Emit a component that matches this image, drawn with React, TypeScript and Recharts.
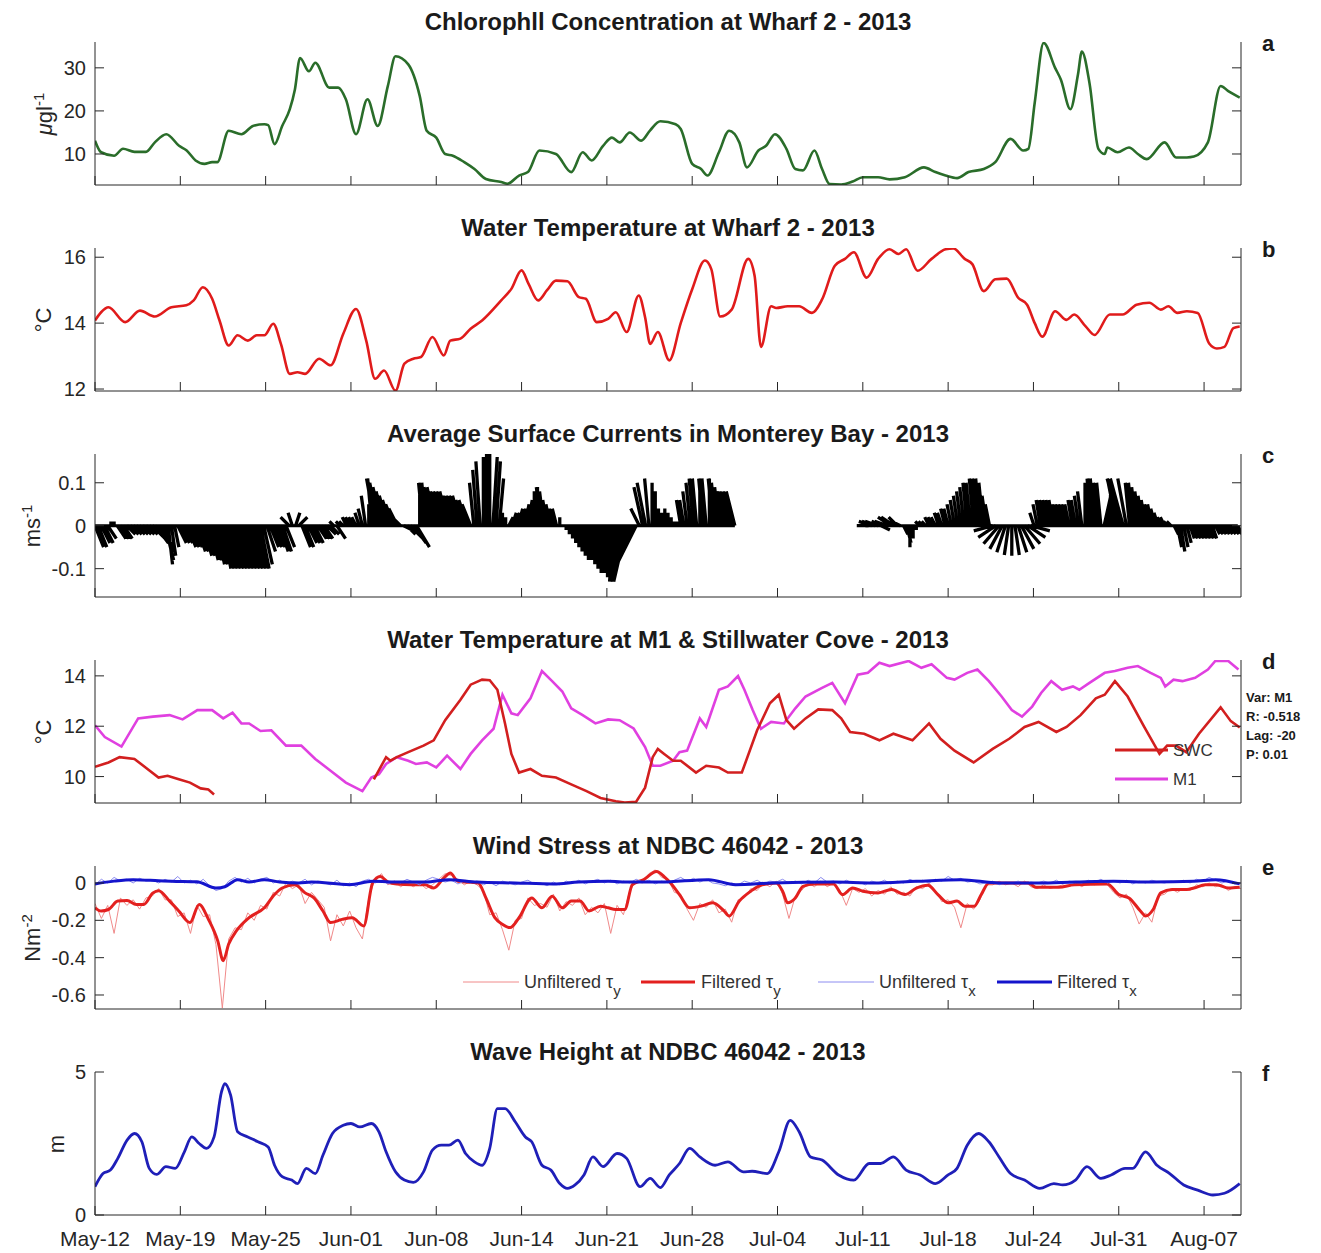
import React from "react";
import { ComposedChart, Line, XAxis, YAxis } from "recharts";

// time axis: days since 12 May 2013
const dayTicks = [0, 6.7, 13.4, 20.1, 26.8, 33.5, 40.2, 46.9, 53.6, 60.3, 67, 73.7, 80.4, 87.1];
const dayLabels = ["May-12", "May-19", "May-25", "Jun-01", "Jun-08", "Jun-14", "Jun-21", "Jun-28", "Jul-04", "Jul-11", "Jul-18", "Jul-24", "Jul-31", "Aug-07"];

// chlorophyll at Wharf 2, ug/l  [day, value]
const chlorophyll: [number, number][] = [
  [0, 13.1], [0.48, 10.4], [1.5, 9.6], [2.2, 11.2], [3.1, 10.5], [4.0, 10.5], [4.7, 12.7], [5.6, 14.6],
  [6.6, 11.9], [7.2, 10.8], [7.9, 8.5], [8.6, 7.7], [9.2, 8.1], [9.6, 8.1], [10.5, 15.4], [11.5, 14.6],
  [12.4, 16.5], [13.3, 16.9], [13.6, 16.7], [14.1, 12.3], [14.7, 16.5], [15.3, 20.4], [15.7, 25], [16.1, 32.3],
  [16.8, 29.2], [17.3, 31.2], [18.4, 25.4], [19.1, 25.4], [19.7, 22.7], [20.5, 14.6], [21.4, 22.7], [22.2, 16.5],
  [23.0, 25.8], [23.6, 32.7], [24.6, 30.8], [25.5, 23.5], [26.05, 15.4], [26.8, 13.8], [27.5, 10.0], [28.1, 9.6],
  [29.0, 8.1], [29.8, 6.5], [30.7, 4.2], [31.9, 3.5], [32.4, 3.1], [33.3, 5.0], [34.0, 5.8], [34.9, 10.8],
  [36.2, 10], [37.4, 5.8], [38.3, 10.4], [39.0, 8.5], [39.9, 11.9], [40.6, 13.8], [41.2, 12.7], [42.0, 15],
  [42.9, 13.1], [43.6, 15.5], [44.4, 17.6], [45.6, 16.9], [46.0, 15.8], [46.9, 7.7], [47.6, 6.5], [48.1, 5.0],
  [49.0, 10.4], [49.8, 15.4], [50.6, 12.7], [51.2, 6.9], [52.1, 10.8], [52.7, 11.9], [53.4, 14.6], [54.3, 11.2],
  [55.0, 6.5], [55.6, 6.2], [56.5, 10.8], [57.1, 6.5], [57.7, 3.0], [58.6, 2.9], [59.5, 3.6], [60.3, 4.6],
  [61.5, 4.6], [62.4, 4.1], [63.6, 4.6], [65.1, 6.9], [66.0, 5.8], [66.8, 5.0], [67.7, 4.4], [68.6, 5.8],
  [69.8, 6.5], [70.7, 8.1], [71.9, 13.5], [72.9, 10.8], [73.3, 11.2], [73.8, 21.9], [74.5, 35.8], [75.4, 30],
  [75.85, 27.3], [76.6, 20.4], [77.2, 28.5], [77.5, 33.8], [78.1, 26.5], [78.8, 11.2], [79.3, 10], [79.5, 11.5],
  [80.3, 10.4], [81.2, 11.5], [81.9, 10], [82.6, 8.8], [84.0, 12.7], [84.9, 9.2], [85.75, 9.2], [86.3, 9.4],
  [87.4, 12.7], [88.4, 25.8], [89.0, 24.6], [89.9, 23.1],
];

// water temperature at Wharf 2, degC
const wharfTemp: [number, number][] = [
  [0, 14.08], [0.48, 14.33], [1.06, 14.48], [2.37, 14.03], [3.53, 14.38], [4.7, 14.2], [6.0, 14.48], [7.17, 14.54],
  [7.75, 14.69], [8.47, 15.09], [9.2, 14.74], [9.78, 14.08], [10.5, 13.32], [11.2, 13.63], [12.0, 13.47], [12.7, 13.63],
  [13.3, 13.63], [14.0, 13.98], [14.6, 13.37], [15.3, 12.46], [15.9, 12.51], [16.5, 12.46], [17.6, 12.92], [18.5, 12.72],
  [19.5, 13.68], [20.5, 14.43], [21.3, 13.47], [22.0, 12.31], [22.7, 12.56], [23.6, 11.95], [24.3, 12.77], [25.0, 12.92],
  [25.6, 12.97], [26.5, 13.58], [27.4, 13.02], [27.9, 13.47], [28.7, 13.53], [29.5, 13.83], [30.4, 14.08], [31.9, 14.69],
  [32.7, 15.04], [33.5, 15.6], [34.05, 15.19], [34.8, 14.69], [35.5, 15.0], [36.2, 15.29], [37.1, 15.27], [38.0, 14.79],
  [38.55, 14.74], [39.4, 14.03], [40.3, 14.13], [40.9, 14.33], [41.75, 13.73], [42.7, 14.84], [43.2, 14.18], [43.6, 13.37],
  [44.2, 13.73], [45.1, 12.87], [46.0, 14.0], [46.9, 15.03], [47.9, 15.9], [48.4, 15.64], [49.1, 14.2], [50.0, 14.41],
  [51.3, 15.95], [51.8, 15.44], [52.3, 13.28], [53.1, 14.51], [53.5, 14.46], [54.4, 14.51], [55.3, 14.51], [56.3, 14.31],
  [57.1, 14.72], [58.1, 15.74], [58.9, 15.95], [59.6, 16.15], [60.6, 15.38], [61.5, 15.95], [62.4, 16.24], [63.1, 16.1],
  [63.7, 16.24], [64.6, 15.59], [65.7, 15.95], [66.8, 16.24], [67.4, 16.27], [68.3, 15.95], [68.9, 15.79], [69.8, 14.97],
  [70.7, 15.33], [71.6, 15.35], [72.5, 14.77], [73.2, 14.56], [73.8, 14.0], [74.4, 13.59], [75.4, 14.36], [76.3, 14.1],
  [76.9, 14.26], [77.8, 13.9], [78.5, 13.64], [79.7, 14.26], [80.7, 14.26], [81.8, 14.56], [82.8, 14.62], [83.7, 14.41],
  [84.3, 14.51], [85.0, 14.31], [85.75, 14.36], [86.6, 14.31], [87.5, 13.38], [88.1, 13.23], [88.7, 13.28], [89.4, 13.85],
  [89.9, 13.9],
];

// Stillwater Cove temperature, degC (logger gap mid-May to early June)
const swcTemp: [number, number | null][] = [
  [0, 10.39], [1.06, 10.56], [1.93, 10.77], [3.1, 10.7], [3.97, 10.36], [4.99, 9.96], [5.7, 10.03], [6.58, 9.89],
  [7.46, 9.76], [8.3, 9.53], [8.9, 9.49], [9.35, 9.29], [15, null],
  [21.9, 9.89], [22.86, 10.77], [23.2, 10.63], [23.7, 10.77], [24.6, 10.97], [25.8, 11.23], [26.6, 11.44], [27.5, 12.24],
  [28.7, 13.05], [29.5, 13.65], [30.4, 13.85], [31.0, 13.83], [31.6, 13.45], [32.2, 12.11], [32.7, 10.9], [33.3, 10.16],
  [34.2, 10.3], [35.1, 10.03], [36.2, 9.96], [37.4, 9.69], [38.6, 9.42], [39.7, 9.15], [40.9, 9.02], [41.6, 8.97],
  [42.5, 9.0], [43.2, 9.56], [43.8, 10.77], [44.2, 11.1], [44.7, 10.9], [45.4, 10.63], [46.0, 10.63], [47.2, 10.16],
  [48.0, 10.43], [49.0, 10.36], [49.7, 10.16], [50.8, 10.16], [52.0, 11.84], [53.0, 12.91], [53.7, 13.25], [54.3, 12.24],
  [54.9, 11.9], [55.8, 12.31], [56.8, 12.67], [57.9, 12.64], [58.6, 12.31], [59.3, 11.77], [60.4, 11.7], [61.6, 11.44],
  [62.7, 11.7], [64.2, 11.44], [65.5, 12.11], [66.4, 11.5], [67.5, 11.03], [69.0, 10.56], [70.5, 11.1], [71.8, 11.5],
  [73.0, 11.97], [74.1, 12.17], [75.5, 11.77], [76.3, 11.97], [77.4, 12.44], [78.6, 13.11], [79.3, 13.25], [80.1, 13.79],
  [81.1, 13.18], [82.4, 11.97], [83.6, 10.9], [84.2, 11.23], [84.9, 11.23], [85.7, 10.97], [86.7, 11.7], [88.4, 12.75],
  [89.2, 12.2], [89.9, 11.95],
];

// M1 mooring temperature, degC
const m1Temp: [number, number][] = [
  [0, 12.04], [0.77, 11.57], [2.08, 11.19], [3.39, 12.31], [4.55, 12.38], [5.86, 12.44], [6.88, 12.27], [8.04, 12.64],
  [9.2, 12.64], [10.07, 12.31], [10.8, 12.54], [11.5, 12.11], [12.1, 12.11], [13.0, 11.81], [13.85, 11.84], [15.0, 11.23],
  [16.2, 11.23], [17.3, 10.7], [18.5, 10.23], [19.7, 9.76], [21.0, 9.42], [21.7, 9.96], [22.3, 10.09], [22.86, 10.5],
  [23.7, 10.77], [24.6, 10.63], [25.2, 10.5], [26.06, 10.56], [26.8, 10.36], [27.65, 10.83], [28.7, 10.3], [29.5, 10.9],
  [30.4, 11.44], [31.3, 11.9], [32.0, 13.25], [32.7, 12.51], [33.2, 12.44], [34.2, 13.11], [35.1, 14.19], [35.9, 13.79],
  [36.7, 13.38], [37.4, 12.71], [38.3, 12.44], [39.3, 12.11], [40.3, 12.27], [41.2, 12.24], [42.3, 11.91], [43.2, 11.17],
  [43.8, 10.43], [44.4, 10.43], [45.4, 10.63], [45.9, 10.97], [46.5, 11.03], [47.5, 12.31], [48.0, 11.97], [49.0, 13.45],
  [49.7, 13.58], [50.5, 13.99], [51.0, 13.45], [51.65, 12.64], [52.3, 11.9], [53.1, 12.17], [54.1, 12.11], [55.0, 12.71],
  [55.8, 13.18], [57.1, 13.52], [57.9, 13.72], [58.9, 12.91], [59.9, 14.05], [60.7, 14.12], [61.6, 14.52], [62.4, 14.39],
  [63.9, 14.59], [64.9, 14.32], [65.7, 14.46], [66.9, 13.92], [67.5, 13.85], [68.5, 14.12], [69.3, 14.25], [70.2, 13.79],
  [71.2, 13.18], [72.0, 12.64], [72.8, 12.38], [73.6, 12.78], [74.3, 13.32], [75.1, 13.79], [75.95, 13.45], [76.8, 13.58],
  [77.3, 13.45], [78.1, 13.72], [79.3, 14.12], [80.1, 14.19], [81.1, 14.32], [81.9, 14.39], [82.9, 14.12], [83.7, 13.92],
  [84.05, 13.58], [84.7, 13.85], [85.4, 13.79], [86.4, 13.92], [87.4, 14.25], [88.0, 14.6], [89.0, 14.59], [89.8, 14.25],
];

// significant wave height at NDBC 46042, m
const waveHeight: [number, number][] = [
  [0, 0.99], [0.63, 1.45], [1.21, 1.57], [1.79, 1.98], [2.52, 2.62], [3.1, 2.85], [3.68, 2.56], [4.26, 1.63],
  [4.84, 1.42], [5.57, 1.69], [6.3, 1.63], [7.02, 2.21], [7.6, 2.73], [8.18, 2.5], [8.76, 2.33], [9.35, 2.73],
  [9.93, 4.3], [10.2, 4.59], [10.65, 4.19], [11.2, 2.91], [12.0, 2.73], [12.8, 2.56], [13.6, 2.38], [14.1, 1.74],
  [14.7, 1.34], [15.45, 1.22], [15.9, 1.1], [16.6, 1.63], [17.3, 1.45], [17.9, 2.09], [18.65, 2.85], [19.5, 3.14],
  [20.1, 3.2], [20.8, 3.08], [21.7, 3.2], [22.3, 2.91], [22.86, 2.21], [23.6, 1.51], [24.3, 1.22], [25.0, 1.14],
  [25.8, 1.51], [26.5, 2.27], [27.2, 2.44], [27.8, 2.44], [28.5, 2.62], [29.1, 2.15], [29.8, 1.86], [30.4, 1.74],
  [31.0, 2.33], [31.6, 3.72], [32.2, 3.72], [33.0, 3.26], [33.8, 2.73], [34.3, 2.56], [35.1, 1.74], [35.8, 1.57],
  [36.5, 1.1], [37.1, 0.93], [37.7, 1.05], [38.4, 1.4], [39.1, 2.03], [39.9, 1.69], [41.0, 2.15], [41.75, 1.98],
  [42.8, 0.99], [43.6, 1.28], [44.4, 0.96], [45.1, 1.4], [45.9, 1.8], [46.7, 2.33], [47.5, 2.03], [48.7, 1.74],
  [49.7, 1.86], [50.9, 1.51], [51.6, 1.53], [52.8, 1.45], [53.7, 2.21], [54.6, 3.31], [55.3, 2.91], [56.2, 2.03],
  [57.1, 1.92], [58.4, 1.4], [59.6, 1.22], [60.8, 1.8], [61.7, 1.8], [62.7, 2.03], [63.7, 1.57], [64.8, 1.4],
  [66.0, 1.1], [67.0, 1.4], [67.7, 1.63], [68.5, 2.44], [69.4, 2.85], [70.2, 2.56], [71.0, 2.03], [71.9, 1.45],
  [73.0, 1.22], [74.2, 0.93], [75.3, 1.1], [76.0, 1.05], [77.0, 1.22], [77.9, 1.69], [79.0, 1.28], [79.8, 1.4],
  [80.9, 1.63], [81.5, 1.63], [82.5, 2.21], [83.4, 1.74], [84.4, 1.45], [85.5, 1.05], [86.6, 0.87], [87.8, 0.7],
  [88.7, 0.76], [89.9, 1.1],
];

// low-passed wind stress, N/m2
const tauYFiltered: [number, number][] = [
  [0, -0.133], [0.48, -0.15], [1.06, -0.142], [1.79, -0.097], [2.52, -0.094], [3.24, -0.115], [3.82, -0.115], [4.55, -0.053],
  [4.99, -0.041], [5.86, -0.097], [6.58, -0.15], [7.46, -0.212], [8.18, -0.115], [8.91, -0.195], [9.64, -0.31], [10.07, -0.416],
  [10.5, -0.327], [11.1, -0.257], [12.1, -0.186], [13.3, -0.133], [14.1, -0.062], [14.7, -0.027], [15.7, -0.009], [16.5, -0.053],
  [17.2, -0.08], [17.9, -0.15], [18.5, -0.212], [19.4, -0.195], [20.2, -0.186], [21.1, -0.23], [21.8, 0], [22.4, 0.035],
  [23.0, 0.005], [23.7, -0.005], [24.9, -0.009], [25.9, -0.009], [26.6, -0.027], [27.4, 0.027], [27.9, 0.053], [28.5, 0.009],
  [30.1, 0], [30.7, -0.08], [31.4, -0.186], [32.0, -0.221], [32.6, -0.239], [33.3, -0.186], [34.3, -0.08], [35.1, -0.133],
  [35.9, -0.071], [36.7, -0.133], [37.4, -0.097], [38.1, -0.097], [38.8, -0.15], [39.7, -0.124], [40.3, -0.133], [40.9, -0.142],
  [41.6, -0.142], [42.2, -0.009], [43.1, 0.018], [44.1, 0.062], [44.8, 0.027], [45.2, 0], [45.9, -0.062], [46.7, -0.133],
  [47.6, -0.124], [48.5, -0.106], [49.4, -0.15], [49.8, -0.177], [50.6, -0.097], [51.5, -0.044], [52.4, -0.009], [53.5, 0],
  [54.0, -0.044], [54.4, -0.106], [55.0, -0.08], [55.6, -0.018], [56.5, -0.005], [58.0, -0.005], [58.7, -0.062], [59.5, -0.027],
  [60.3, -0.044], [61.5, -0.053], [62.55, -0.035], [63.6, -0.062], [64.5, -0.027], [65.4, -0.012], [66.2, -0.062], [67.0, -0.106],
  [67.7, -0.097], [68.3, -0.124], [69.05, -0.124], [69.6, -0.062], [70.2, 0], [73.3, 0], [73.9, -0.023], [75.7, -0.023],
  [76.9, -0.009], [79.5, -0.005], [80.4, -0.062], [81.2, -0.08], [82.1, -0.15], [82.5, -0.177], [83.1, -0.142], [83.7, -0.053],
  [84.6, -0.035], [85.75, -0.035], [86.3, -0.027], [87.2, -0.009], [88.1, -0.009], [89.0, -0.027], [89.9, -0.023],
];

const tauXFiltered: [number, number][] = [
  [0, -0.005], [1.5, 0.01], [3, 0.018], [5, 0.012], [6, 0.009], [8, 0.006], [9.5, -0.027], [10.2, -0.02],
  [11.2, 0.018], [12.1, 0.005], [13.3, 0.018], [14.5, 0.005], [16, 0.0], [17, 0.005], [20, -0.009], [21.8, 0.009],
  [24, 0.005], [26, 0.005], [27.8, 0.018], [30, 0.005], [33, 0], [36, -0.005], [38, 0.005], [40.3, 0.009],
  [42, 0.005], [44.4, 0.005], [48.2, 0.018], [50.3, -0.009], [53.2, 0], [58, 0.005], [61.1, 0], [64.5, 0.009],
  [68, 0.018], [71, 0], [74, 0], [77, 0.005], [80, 0.009], [83, 0.005], [86.3, 0.009], [88, 0.018], [89.9, -0.005],
];

// unfiltered wind stress, every 12 h from day 0
const tauYRaw = [
  -0.11, -0.19, -0.12, -0.27, -0.08, -0.12, -0.09, -0.14, -0.08, -0.07,
  -0.03, -0.09, -0.09, -0.18, -0.16, -0.27, -0.12, -0.18, -0.17, -0.33,
  -0.67, -0.3, -0.24, -0.25, -0.16, -0.2, -0.12, -0.14, -0.05, -0.07,
  0.0, -0.03, -0.01, -0.11, -0.05, -0.09, -0.13, -0.31, -0.17, -0.23,
  -0.15, -0.24, -0.3, -0.08, 0.02, 0.05, -0.01, 0.01, -0.02, 0.0,
  -0.02, 0.0, -0.03, -0.01, 0.02, 0.05, 0.04, 0.02, -0.01, 0.01,
  -0.01, -0.04, -0.17, -0.16, -0.25, -0.36, -0.2, -0.19, -0.08, -0.12,
  -0.11, -0.13, -0.06, -0.15, -0.1, -0.12, -0.08, -0.17, -0.13, -0.16,
  -0.11, -0.27, -0.12, -0.17, -0.04, 0.01, 0.0, 0.05, 0.07, 0.03,
  0.02, -0.05, -0.06, -0.14, -0.2, -0.11, -0.13, -0.09, -0.16, -0.14,
  -0.21, -0.09, -0.08, -0.03, -0.04, 0.0, -0.02, 0.01, -0.06, -0.19,
  -0.07, -0.04, 0.0, -0.02, 0.01, -0.02, 0.0, -0.04, -0.12, -0.03,
  -0.05, -0.03, -0.07, -0.04, -0.06, -0.02, -0.06, -0.05, -0.07, -0.02,
  -0.03, 0.0, -0.04, -0.1, -0.09, -0.13, -0.24, -0.11, -0.14, -0.09,
  -0.01, -0.01, 0.01, -0.01, 0.0, -0.02, 0.01, -0.02, -0.03, -0.01,
  -0.03, -0.02, -0.01, -0.02, 0.0, -0.02, 0.0, -0.01, 0.01, -0.01,
  -0.05, -0.08, -0.06, -0.13, -0.22, -0.16, -0.21, -0.07, -0.06, -0.03,
  -0.05, -0.03, -0.04, -0.01, -0.02, 0.0, -0.02, -0.01, -0.04, -0.02,
  -0.03,
];

const tauXRaw = [
  -0.01, 0.02, 0.0, 0.03, 0.01, 0.02, 0.0, 0.025, 0.01, 0.015,
  0.0, 0.02, 0.005, 0.035, 0.0, 0.015, -0.005, 0.02, -0.015, -0.04,
  -0.03, 0.01, 0.03, 0.005, 0.025, 0.0, 0.02, 0.03, 0.0, 0.015,
  -0.005, 0.01, 0.0, 0.02, -0.01, 0.01, 0.0, -0.01, 0.015, -0.015,
  0.0, -0.02, 0.01, 0.02, 0.0, 0.015, -0.005, 0.01, 0.0, 0.02,
  0.005, -0.01, 0.015, 0.03, 0.02, 0.005, 0.015, -0.005, 0.01, 0.0,
  0.01, -0.01, 0.005, -0.015, 0.01, 0.0, -0.01, 0.005, 0.015, -0.005,
  0.0, -0.015, 0.005, -0.01, 0.01, 0.0, 0.015, -0.005, 0.01, 0.02,
  0.0, 0.015, -0.005, 0.01, 0.0, 0.02, 0.005, 0.015, -0.005, 0.01,
  0.0, 0.015, 0.03, 0.01, 0.025, 0.005, 0.02, 0.0, -0.005, -0.015,
  0.0, -0.01, 0.01, 0.0, 0.015, -0.005, 0.01, 0.005, 0.02, 0.0,
  0.01, -0.005, 0.015, 0.0, 0.03, 0.005, 0.01, -0.005, 0.015, 0.0,
  0.005, -0.01, 0.01, 0.0, 0.015, -0.005, 0.01, 0.0, 0.02, 0.005,
  0.015, 0.0, 0.02, 0.01, 0.035, 0.015, 0.025, 0.005, 0.01, -0.005,
  0.0, 0.01, -0.01, 0.005, 0.0, 0.01, -0.005, 0.005, 0.0, 0.01,
  0.0, 0.015, -0.005, 0.01, 0.005, 0.0, 0.015, 0.005, 0.02, 0.0,
  0.01, 0.0, 0.015, -0.005, 0.01, 0.0, 0.015, 0.005, 0.0, 0.01,
  0.005, 0.015, 0.0, 0.02, 0.01, 0.03, 0.015, 0.0, 0.01, -0.005,
  0.0,
];

// bay-averaged surface current, cm/s, every 6 h from day 0 (five days per row)
const currentU = [
  2, 2, 2, 2, 2, 0, 0, 2, 2, 2, 2, 2, 2, 2, 2, 2, 2, 2, 3, 3,
  3, 3, 2, 1, 1, 1, 2, 2, 2, 2, 2, 2, 2, 2, 2, 2, 2, 2, 2, 2,
  2, 2, 2, 2, 2, 2, 2, 2, 2, 2, 2, 2, 2, 2, 2, 2, 2, 2, 2, 2,
  2, -2, -1, 1, 2, 2, 2, 2, 2, 2, 2, 2, 2, 2, 2, -1, 2, -1, -1, -1,
  -1, -1, -1, -1, -1, -1, 0, -1, -2, -2, -2, -2, -2, -2, -2, -2, -2, 2, 2, 3,
  3, 3, 0, -1, -1, -2, -2, -2, -2, -2, -2, -2, -2, -2, -2, -2, -2, -2, -2, -1,
  -1, -1, 0, 0, 0, 1, 1, 1, 0, 0, 1, 1, 1, 1, 1, 1, 1, 1, 0, 0,
  -1, -1, -1, -1, -1, -1, 0, 0, 0, 0, 0, 0, 0, 0, 0, 0, 0, 0, 0, 0,
  0, 0, 0, -1, -1, -2, -3, -3, -4, -5, -5, -2, -2, -2, -1, 0, 0, 0, 0, 0,
  0, 0, 0, 0, -1, -1, -1, -1, -1, -1, 0, -1, -1, 0, -1, -1, -1, -1, -2, -2,
  -2, -2, null, null, null, null, null, null, null, null, null, null, null, null, null, null, null, null, null, null,
  null, null, null, null, null, null, null, null, null, null, null, null, null, null, null, null, null, null, null, null,
  null, null, -2, -2, -3, -3, -3, 2, -3, -3, -3, -3, -2, -2, 1, 1, 0, 0, 0, -1,
  -1, -1, -1, -1, -1, -1, -1, -1, -1, -1, -1, -1, -1, -1, -1, -1, -1, -1, -1, -1,
  -1, -1, -4.4, -4.1, -3.6, -2.9, -2, -1, 0, 1, 2, 2.9, 3.6, 4.1, 4.4, -1, -1, -1, -1, -1,
  -1, -1, -1, -1, -1, -1, -1, -1, -1, -1, -1, 0, 0, -1, -1, -1, -1, 2, 1, 0,
  -1, -2, -3, -3, -2, -1, -1, -1, -1, -1, -1, -1, -1, -1, -1, -1, -1, -1, -1, 1,
  1, 1, 1, 1, 1, 1, 1, 1, 1, 1, 1, 1, 1, 1, 1, 1, 1, 1, 1, 1,
];

const currentV = [
  -5, -5, -4, -4, -3, 1, 1, -3, -3, -3, -2, -2, -2, -2, -2, -2, -2, -2, -3, -4,
  -5, -6, -8, -9, -7, -5, -4, -4, -4, -5, -5, -5, -6, -6, -7, -7, -8, -8, -9, -9,
  -10, -10, -10, -10, -10, -10, -10, -10, -10, -10, -10, -10, -10, -9, -6, -5, -5, -5, -6, -6,
  -5, 2, 3, 3, 2, -5, -5, -4, -4, -4, -3, -3, -3, -2, -2, 1, -3, 1, 1, 2,
  2, 2, 2, 3, 4, 7, 5, 11, 11, 10, 9, 8, 7, 6, 5, 4, 2, -1, -2, -3,
  -4, -5, 10, 10, 10, 9, 9, 9, 8, 8, 8, 8, 7, 7, 7, 7, 6, 6, 5, 10,
  13, 15, 16, 17, 17, 16, 15, 11, 3, 2, 2, 3, 3, 4, 4, 5, 6, 7, 8, 9,
  9, 8, 6, 5, 4, 4, 2, 0, -1, -2, -3, -4, -5, -6, -7, -8, -8, -9, -10, -11,
  -11, -12, -13, -13, -13, -13, -13, -13, -12, -12, -10, 4, 9, 10, 11, 10, 8, 4, 3, 4,
  3, 2, 1, 1, 6, 6, 8, 10, 11, 11, 11, 11, 11, 11, 11, 10, 9, 8, 8, 8,
  8, 8, null, null, null, null, null, null, null, null, null, null, null, null, null, null, null, null, null, null,
  null, null, null, null, null, null, null, null, null, null, null, null, null, null, null, null, null, null, null, null,
  null, null, 0, 0, 1, 1, 1, -1, 1, 1, 2, 2, 2, 1, -2, -4, -5, -3, -1, 1,
  1, 1, 2, 2, 2, 3, 3, 4, 4, 5, 6, 7, 8, 9, 10, 10, 11, 11, 11, 10,
  7, 5, -1.2, -2.7, -4.2, -5.4, -6.2, -6.8, -7, -6.8, -6.2, -5.4, -4.2, -2.7, -1.2, 3, 5, 6, 6, 6,
  6, 6, 5, 5, 5, 5, 5, 6, 6, 7, 8, 10, 11, 11, 11, 10, 10, 9, 9, 9,
  10, 10, 11, 11, 11, 10, 10, 9, 8, 7, 6, 5, 5, 4, 3, 2, 2, 1, 1, -2,
  -5, -6, -5, -4, -3, -3, -3, -3, -3, -3, -3, -3, -2, -2, -2, -2, -2, -2, -2, -2,
];

const FONT = '"Liberation Sans", Arial, Helvetica, sans-serif';
const INK = "#262626";
const TICK = 9;
const PLOT_H = 143;
const LEFT_W = 95;
const RIGHT_W = 80;
const TOP_PAD = 10;
const BOTTOM_H = 40;
// horizontal length of a 1 cm/s stick, in days, so sticks keep their true angle
const STICK_DAYS_PER_CMS = 0.338;

const toPoints = (rows: [number, number | null][]) => rows.map(([x, y]) => ({ x, y }));
const halfDaily = (vals: number[]) => vals.map((y, i) => ({ x: i * 0.5, y }));

const stickPoints: { x: number; y: number | null }[] = [];
currentV.forEach((v, i) => {
  const u = currentU[i];
  if (v === null || u === null) return;
  const day = i * 0.25;
  stickPoints.push({ x: day, y: 0 }, { x: day + u * STICK_DAYS_PER_CMS, y: v / 100 }, { x: day, y: null });
});
const stickBase = currentV.map((v, i) => ({ x: i * 0.25, y: v === null ? null : 0 }));

function BottomTick(props: any) {
  const { x, y, payload, showDates } = props;
  const idx = dayTicks.indexOf(payload.value);
  return (
    <g>
      <line x1={x} y1={y} x2={x} y2={y - TICK} stroke={INK} />
      {showDates && (
        <text x={x} y={y + 31} textAnchor="middle" fontSize={21} fontFamily={FONT} fill={INK}>
          {dayLabels[idx]}
        </text>
      )}
    </g>
  );
}

function TopTick(props: any) {
  const { x, y } = props;
  return <line x1={x} y1={y} x2={x} y2={y + TICK} stroke={INK} />;
}

function LeftTick(props: any) {
  const { x, y, payload } = props;
  return (
    <g>
      <line x1={x} y1={y} x2={x + TICK} y2={y} stroke={INK} />
      <text x={x - 9} y={y} dy="0.35em" textAnchor="end" fontSize={20} fontFamily={FONT} fill={INK}>
        {String(payload.value)}
      </text>
    </g>
  );
}

function RightTick(props: any) {
  const { x, y } = props;
  return <line x1={x} y1={y} x2={x - TICK} y2={y} stroke={INK} />;
}

type PanelProps = {
  top: number;
  title: string;
  letter: string;
  yLabel: React.ReactNode;
  yLabelX: number;
  domain: [number, number];
  ticks: number[];
  showDates?: boolean;
  children: React.ReactNode;
};

function Panel({ top, title, letter, yLabel, yLabelX, domain, ticks, showDates, children }: PanelProps) {
  return (
    <>
      <div
        style={{
          position: "absolute",
          left: LEFT_W,
          width: 1146,
          top: top - 34,
          textAlign: "center",
          fontFamily: FONT,
          fontWeight: "bold",
          fontSize: 24,
          lineHeight: "28px",
          color: "#1a1a1a",
        }}
      >
        {title}
      </div>
      <div
        style={{
          position: "absolute",
          left: 1262,
          top: top - 11,
          fontFamily: FONT,
          fontWeight: "bold",
          fontSize: 22,
          lineHeight: "26px",
          color: "#1a1a1a",
        }}
      >
        {letter}
      </div>
      <div
        style={{
          position: "absolute",
          left: yLabelX,
          top: top + PLOT_H / 2,
          transform: "translate(-50%, -50%) rotate(-90deg)",
          whiteSpace: "nowrap",
          fontFamily: FONT,
          fontSize: 22,
          color: INK,
        }}
      >
        {yLabel}
      </div>
      <div style={{ position: "absolute", left: 0, top: top - TOP_PAD }}>
        <ComposedChart
          width={1321}
          height={TOP_PAD + PLOT_H + BOTTOM_H}
          margin={{ top: TOP_PAD, right: 0, bottom: 0, left: 0 }}
        >
          <XAxis
            type="number"
            dataKey="x"
            domain={[0, 90]}
            ticks={dayTicks}
            interval={0}
            allowDataOverflow
            height={BOTTOM_H}
            tickSize={0}
            tickMargin={0}
            stroke={INK}
            tick={(p: any) => <BottomTick {...p} showDates={showDates} />}
          />
          <XAxis
            xAxisId="top"
            orientation="top"
            type="number"
            dataKey="x"
            domain={[0, 90]}
            ticks={dayTicks}
            interval={0}
            allowDataOverflow
            height={0}
            tickSize={0}
            tickMargin={0}
            stroke={INK}
            tick={(p: any) => <TopTick {...p} />}
          />
          <YAxis
            type="number"
            domain={domain}
            ticks={ticks}
            interval={0}
            allowDataOverflow
            width={LEFT_W}
            tickSize={0}
            tickMargin={0}
            stroke={INK}
            tick={(p: any) => <LeftTick {...p} />}
          />
          <YAxis
            yAxisId="right"
            orientation="right"
            type="number"
            domain={domain}
            ticks={ticks}
            interval={0}
            allowDataOverflow
            width={RIGHT_W}
            tickSize={0}
            tickMargin={0}
            stroke={INK}
            tick={(p: any) => <RightTick {...p} />}
          />
          {children}
        </ComposedChart>
      </div>
    </>
  );
}

const sup = (s: string) => <sup style={{ fontSize: 15 }}>{s}</sup>;

export default function App() {
  return (
    <div style={{ position: "absolute", left: 0, top: 0, width: 1321, height: 1253, background: "#fff" }}>
      <Panel
        top={42}
        title="Chlorophll Concentration at Wharf 2 - 2013"
        letter="a"
        yLabel={<span><i>μ</i>gl{sup("-1")}</span>}
        yLabelX={44}
        domain={[2.8, 36]}
        ticks={[10, 20, 30]}
      >
        <Line data={toPoints(chlorophyll)} dataKey="y" type="monotone" stroke="#2a6d2a" strokeWidth={2.6} dot={false} isAnimationActive={false} />
      </Panel>

      <Panel
        top={248}
        title="Water Temperature at Wharf 2 - 2013"
        letter="b"
        yLabel={<span>°C</span>}
        yLabelX={44}
        domain={[11.94, 16.28]}
        ticks={[12, 14, 16]}
      >
        <Line data={toPoints(wharfTemp)} dataKey="y" type="monotone" stroke="#e01b1b" strokeWidth={2.6} dot={false} isAnimationActive={false} />
      </Panel>

      <Panel
        top={454}
        title="Average Surface Currents in Monterey Bay - 2013"
        letter="c"
        yLabel={<span>ms{sup("-1")}</span>}
        yLabelX={32}
        domain={[-0.166, 0.167]}
        ticks={[-0.1, 0, 0.1]}
      >
        <Line data={stickPoints} dataKey="y" type="linear" stroke="#000" strokeWidth={3.3} dot={false} connectNulls={false} isAnimationActive={false} />
        <Line data={stickBase} dataKey="y" type="linear" stroke="#000" strokeWidth={3} dot={false} connectNulls={false} isAnimationActive={false} />
      </Panel>

      <Panel
        top={660}
        title="Water Temperature at M1 & Stillwater Cove - 2013"
        letter="d"
        yLabel={<span>°C</span>}
        yLabelX={44}
        domain={[8.95, 14.63]}
        ticks={[10, 12, 14]}
      >
        <Line data={toPoints(m1Temp)} dataKey="y" type="linear" stroke="#e040e0" strokeWidth={2.6} dot={false} isAnimationActive={false} />
        <Line data={toPoints(swcTemp)} dataKey="y" type="linear" stroke="#d21f1f" strokeWidth={2.6} dot={false} connectNulls={false} isAnimationActive={false} />
      </Panel>

      <Panel
        top={866}
        title="Wind Stress at NDBC 46042 - 2013"
        letter="e"
        yLabel={<span>Nm{sup("-2")}</span>}
        yLabelX={32}
        domain={[-0.675, 0.091]}
        ticks={[-0.6, -0.4, -0.2, 0]}
      >
        <Line data={halfDaily(tauYRaw)} dataKey="y" type="linear" stroke="#f08a8a" strokeWidth={1} dot={false} isAnimationActive={false} />
        <Line data={toPoints(tauYFiltered)} dataKey="y" type="monotone" stroke="#e3201f" strokeWidth={3} dot={false} isAnimationActive={false} />
        <Line data={halfDaily(tauXRaw)} dataKey="y" type="linear" stroke="#8c8cf0" strokeWidth={1} dot={false} isAnimationActive={false} />
        <Line data={toPoints(tauXFiltered)} dataKey="y" type="monotone" stroke="#1414cc" strokeWidth={3} dot={false} isAnimationActive={false} />
      </Panel>

      <Panel
        top={1072}
        title="Wave Height at NDBC 46042 - 2013"
        letter="f"
        yLabel={<span>m</span>}
        yLabelX={57}
        domain={[0, 5]}
        ticks={[0, 5]}
        showDates
      >
        <Line data={toPoints(waveHeight)} dataKey="y" type="monotone" stroke="#1f1fb8" strokeWidth={2.8} dot={false} isAnimationActive={false} />
      </Panel>

      <svg
        width={1321}
        height={1253}
        style={{ position: "absolute", left: 0, top: 0, pointerEvents: "none" }}
        fontFamily={FONT}
      >
        {/* temperature legend and lag-correlation note */}
        <line x1={1115} y1={750} x2={1168} y2={750} stroke="#d21f1f" strokeWidth={3} />
        <text x={1173} y={756} fontSize={17} fill="#333">SWC</text>
        <line x1={1115} y1={779} x2={1168} y2={779} stroke="#e040e0" strokeWidth={3} />
        <text x={1173} y={785} fontSize={17} fill="#333">M1</text>
        <g fontSize={13} fontWeight="bold" fill="#1a1a1a">
          <text x={1246} y={702}>Var: M1</text>
          <text x={1246} y={721}>R: -0.518</text>
          <text x={1246} y={740}>Lag: -20</text>
          <text x={1246} y={759}>P: 0.01</text>
        </g>

        {/* wind stress legend */}
        <g fontSize={18} fill="#333">
          <line x1={463} y1={982} x2={519} y2={982} stroke="#f08a8a" strokeWidth={1} />
          <text x={524} y={988}>Unfiltered τ<tspan dy={8} fontSize={15}>y</tspan></text>
          <line x1={641} y1={982} x2={695} y2={982} stroke="#e3201f" strokeWidth={3} />
          <text x={701} y={988}>Filtered τ<tspan dy={8} fontSize={15}>y</tspan></text>
          <line x1={818} y1={982} x2={874} y2={982} stroke="#8c8cf0" strokeWidth={1} />
          <text x={879} y={988}>Unfiltered τ<tspan dy={8} fontSize={15}>x</tspan></text>
          <line x1={997} y1={982} x2={1052} y2={982} stroke="#1414cc" strokeWidth={3} />
          <text x={1057} y={988}>Filtered τ<tspan dy={8} fontSize={15}>x</tspan></text>
        </g>
      </svg>
    </div>
  );
}
